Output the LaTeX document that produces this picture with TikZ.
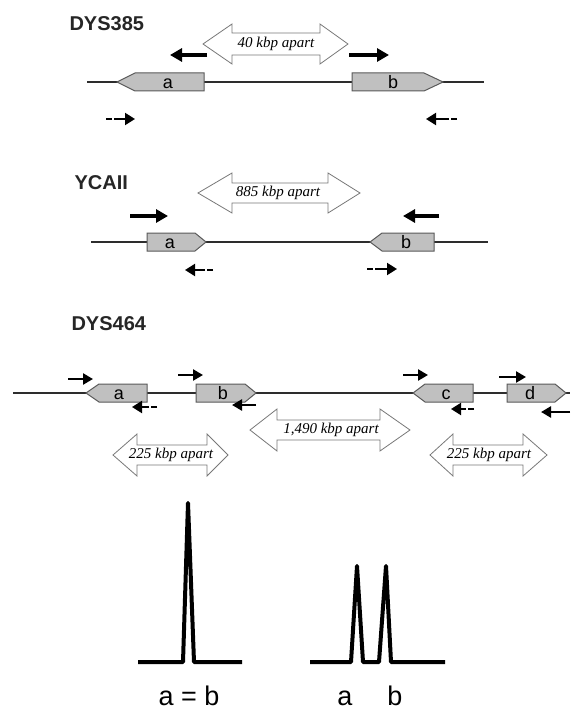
\documentclass[tikz,border=0pt]{standalone}
\usepackage{fontspec}
\setmainfont{Liberation Serif}
\setsansfont{Liberation Sans}
\usetikzlibrary{arrows.meta, positioning}
\definecolor{genegray}{RGB}{192,192,192}
\definecolor{boxedge}{RGB}{90,90,90}
\definecolor{dnaline}{RGB}{45,45,45}
\definecolor{apartgray}{RGB}{120,120,120}
\tikzset{
  dnastrand/.style={line width=2pt, dnaline},
  genebox/.style={draw=boxedge, fill=genegray, line width=1pt},
  primer/.style={-{Triangle[length=12pt, width=13pt]}, line width=3.2pt, black},
  primermid/.style={-{Triangle[length=10pt, width=11pt]}, line width=2.6pt, black},
  primersmall/.style={-{Triangle[length=10pt, width=12pt]}, line width=2pt, black, dash pattern=on 6pt off 2pt on 40pt off 0pt},
  apartarrow/.style={draw=apartgray, fill=white, line width=0.8pt},
  aparttext/.style={font=\itshape\fontsize{15}{15}\selectfont},
  locus/.style={anchor=west, font=\sffamily\bfseries\fontsize{20}{20}\selectfont, text=black!85},
  genename/.style={anchor=base, font=\sffamily\fontsize{18}{18}\selectfont},
  peak/.style={line width=4pt, line join=round},
  peakname/.style={anchor=base, font=\sffamily\fontsize{27}{27}\selectfont}
}
\begin{document}
\begin{tikzpicture}[x=1pt, y=-1pt]
\useasboundingbox[fill=white] (0,0) rectangle (570,711);

% DYS385
\node[locus] (l385) at (66,24) {DYS385};
\draw[apartarrow] (203,44) -- (232,24) -- (232,33) -- (320,33) -- (320,24) -- (348,44) -- (320,64) -- (320,55) -- (232,55) -- (232,64) -- cycle;
\node[aparttext] (gap385) at (276,44) {40 kbp apart};
\draw[primer] (207,55) -- (170,55);
\draw[primer] (349,55) -- (389,55);
\draw[dnastrand] (87,82) -- (484,82);
\draw[genebox] (117,82) -- (135,73) -- (204,73) -- (204,91) -- (135,91) -- cycle;
\draw[genebox] (352,73) -- (424,73) -- (443,82) -- (424,91) -- (352,91) -- cycle;
\node[genename] (a385) at (168,88.5) {a};
\node[genename] (b385) at (393,88.5) {b};
\draw[primersmall] (106,119) -- (135,119);
\draw[primersmall] (457,119) -- (426,119);

% YCAII
\node[locus] (lca) at (71,183) {YCAII};
\draw[apartarrow] (198,193) -- (232,173) -- (232,183) -- (328,183) -- (328,173) -- (360,193) -- (328,213) -- (328,203) -- (232,203) -- (232,213) -- cycle;
\node[aparttext] (gapca) at (278,193) {885 kbp apart};
\draw[primer] (130,216) -- (168,216);
\draw[primer] (439,216) -- (403,216);
\draw[dnastrand] (91,242) -- (488,242);
\draw[genebox] (147,233) -- (195,233) -- (206,242) -- (195,251) -- (147,251) -- cycle;
\draw[genebox] (370,242) -- (382,233) -- (434,233) -- (434,251) -- (382,251) -- cycle;
\node[genename] (aca) at (170,248.5) {a};
\node[genename] (bca) at (406,248.5) {b};
\draw[primersmall] (213,270) -- (185,270);
\draw[primersmall] (367,269) -- (397,269);

% DYS464
\node[locus] (l464) at (68,324) {DYS464};
\draw[dnastrand] (13,393) -- (570,393);
\draw[genebox] (86,393) -- (99,384) -- (147,384) -- (147,402) -- (99,402) -- cycle;
\draw[genebox] (196,384) -- (245,384) -- (256,393) -- (245,402) -- (196,402) -- cycle;
\draw[genebox] (413,393) -- (425,384) -- (473,384) -- (473,402) -- (425,402) -- cycle;
\draw[genebox] (507,384) -- (555,384) -- (566,393) -- (555,402) -- (507,402) -- cycle;
\node[genename] (a464) at (119,399.5) {a};
\node[genename] (b464) at (223,399.5) {b};
\node[genename] (c464) at (446,399.5) {c};
\node[genename] (d464) at (530,399.5) {d};
\draw[primermid] (68,379) -- (93,379);
\draw[primersmall] (157,407) -- (132,407);
\draw[primermid] (178,375) -- (203,375);
\draw[primermid] (256,405) -- (232,405);
\draw[primermid] (403,375) -- (428,375);
\draw[primersmall] (474,409) -- (451,409);
\draw[primermid] (499,377) -- (526,377);
\draw[primermid] (570,412) -- (541,412);
\draw[apartarrow] (250,430) -- (277,409) -- (277,420) -- (380,420) -- (380,409) -- (410,430) -- (380,451) -- (380,440) -- (277,440) -- (277,451) -- cycle;
\node[aparttext] (gapbc) at (331,430) {1,490 kbp apart};
\draw[apartarrow] (113,455) -- (137,434) -- (137,445) -- (207,445) -- (207,434) -- (228,455) -- (207,476) -- (207,465) -- (137,465) -- (137,476) -- cycle;
\node[aparttext] (gapab) at (171,455) {225 kbp apart};
\draw[apartarrow] (430,455) -- (453,434) -- (453,445) -- (523,445) -- (523,434) -- (547,455) -- (523,476) -- (523,465) -- (453,465) -- (453,476) -- cycle;
\node[aparttext] (gapcd) at (489,455) {225 kbp apart};

% peaks
\draw[peak] (138,662) -- (183,662) -- (188,503) -- (194,662) -- (242,662);
\draw[peak] (310,662) -- (351,662) -- (357,566) -- (363,662) -- (379,662) -- (386,566) -- (391,662) -- (445,662);
\node[peakname] (pkone) at (189,705) {a = b};
\node[peakname] (pka) at (345,705) {a};
\node[peakname] (pkb) at (395,705) {b};
\end{tikzpicture}
\end{document}
